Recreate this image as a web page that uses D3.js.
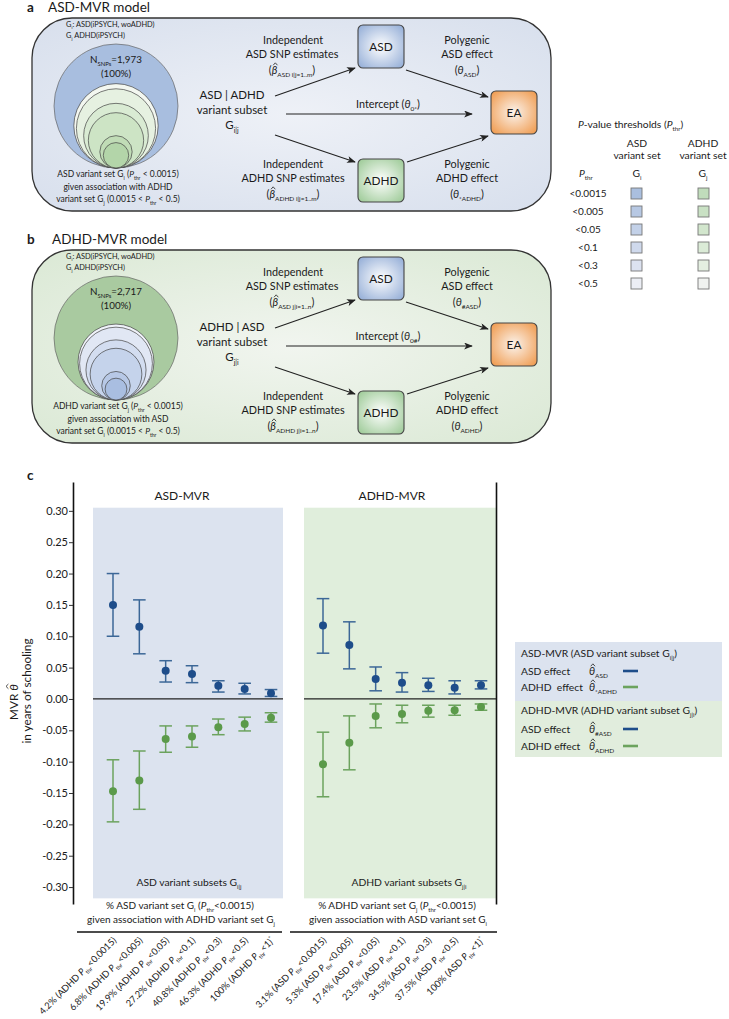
<!DOCTYPE html>
<html><head><meta charset="utf-8">
<script src="https://cdn.jsdelivr.net/npm/d3@7"></script>
<style>
body{margin:0;background:#fff}
svg{display:block}
text{font-family:Lato,"Open Sans",sans-serif;fill:#1a1a1a;white-space:pre}
</style>
</head><body><svg id="c" width="729" height="1019"></svg>
<script>
// ---------------- DATA ----------------
const thresholds = ["<0.0015","<0.005","<0.05","<0.1","<0.3","<0.5"];
const catThresholds = ["<0.0015","<0.005","<0.05","<0.1","<0.3","<0.5","<1"];
const asdSubsetPct = [4.2, 6.8, 19.9, 27.2, 40.8, 46.3, 100];
const adhdSubsetPct = [3.1, 5.3, 17.4, 23.5, 34.5, 37.5, 100];
const nSnpsASD = "1,973";
const nSnpsADHD = "2,717";

const yTicks = [-0.30,-0.25,-0.20,-0.15,-0.10,-0.05,0.00,0.05,0.10,0.15,0.20,0.25,0.30];
const yTickLabels = ["-0.30","-0.25","-0.20","-0.15","-0.10","-0.05","0.00","0.05","0.10","0.15","0.20","0.25","0.30"];

// ASD-MVR model (ASD variant subsets)
const asdMvrAsdEst  = [0.150, 0.115, 0.045, 0.040, 0.021, 0.016, 0.009];
const asdMvrAsdLo   = [0.100, 0.072, 0.027, 0.026, 0.011, 0.008, 0.004];
const asdMvrAsdHi   = [0.200, 0.158, 0.061, 0.053, 0.029, 0.025, 0.015];
const asdMvrAdhdEst = [-0.147, -0.130, -0.064, -0.060, -0.045, -0.040, -0.030];
const asdMvrAdhdLo  = [-0.196, -0.176, -0.085, -0.077, -0.057, -0.051, -0.037];
const asdMvrAdhdHi  = [-0.097, -0.083, -0.043, -0.043, -0.032, -0.029, -0.022];
// ADHD-MVR model (ADHD variant subsets)
const adhdMvrAsdEst  = [0.117, 0.086, 0.032, 0.026, 0.022, 0.018, 0.022];
const adhdMvrAsdLo   = [0.073, 0.048, 0.013, 0.011, 0.012, 0.008, 0.016];
const adhdMvrAsdHi   = [0.160, 0.123, 0.051, 0.042, 0.033, 0.029, 0.029];
const adhdMvrAdhdEst = [-0.104, -0.070, -0.027, -0.024, -0.019, -0.018, -0.013];
const adhdMvrAdhdLo  = [-0.156, -0.113, -0.046, -0.038, -0.029, -0.026, -0.018];
const adhdMvrAdhdHi  = [-0.053, -0.027, -0.008, -0.010, -0.010, -0.010, -0.008];

// ---------------- STYLE ----------------
const C = {
  blueDot:"#1e4d8a", blueBar:"#3c6797", greenDot:"#5b9a4a", greenBar:"#6ca35e",
  panelBlue:"#dce3ef", panelGreen:"#e0eedc",
  bigBlue:"#a8bedf", bigGreen:"#a9caa0",
  innerGreen:["#b3d5a9","#c0dcb6","#cde4c5","#d9ebd3","#e6f1e1","#f3f7f0"],
  innerBlue:["#a9bee1","#b7c8e6","#c5d3eb","#d3ddf0","#e1e7f4","#eff2f9"],
  sqBlue:["#aabfdf","#b7c8e3","#c3d1e8","#cfd9ec","#dce2f0","#eceef5"],
  sqGreen:["#c0dcbb","#c9e1c4","#d2e6cd","#dbebd7","#e4efe1","#f0f2f0"]
};

const svg = d3.select("#c");
const defs = svg.append("defs");
function radial(id, inner, outer, r){
  const g = defs.append("radialGradient").attr("id", id).attr("r", r || "60%");
  g.append("stop").attr("offset","0%").attr("stop-color",inner);
  g.append("stop").attr("offset","100%").attr("stop-color",outer);
}
radial("gASD","#ffffff","#8faad5","70%");
radial("gADHD","#ffffff","#99c893","70%");
radial("gEA","#fbf3ec","#ef9646","70%");
radial("bgA","#eef1f7","#d6deec","75%");
radial("bgB","#f1f5ef","#d9e8d3","75%");
defs.append("marker").attr("id","arr").attr("viewBox","0 0 10 8").attr("refX",9).attr("refY",4)
  .attr("markerWidth",9).attr("markerHeight",7).attr("markerUnits","userSpaceOnUse").attr("orient","auto")
  .append("path").attr("d","M0,0L10,4L0,8L2.5,4Z").attr("fill","#222");

// ---------------- rich text helper ----------------
function parseRich(s){
  const segs=[]; let it=false, i=0, buf="";
  const push=(t,extra)=>{ if(t) segs.push(Object.assign({t, it}, extra||{})); };
  while(i<s.length){
    const c=s[i];
    if(c==='*'){ push(buf); buf=""; it=!it; i++; }
    else if((c==='_'||c==='^') && s[i+1]==='{'){ push(buf); buf=""; const j=s.indexOf('}',i); push(s.slice(i+2,j),{sub:c==='_',sup:c==='^',it:false}); i=j+1; }
    else if(c==='@'){ push(buf); buf=""; push(s[i+1],{hat:true}); i+=2; }
    else { buf+=c; i++; }
  }
  push(buf); return segs;
}
function rich(parent, x, y, s, size, opts){
  opts = opts || {};
  const t = parent.append("text").attr("x",x).attr("y",y).attr("font-size",size)
    .attr("text-anchor",opts.anchor||"start");
  if(opts.weight) t.attr("font-weight",opts.weight);
  let shift=0, idx=0; const hats=[];
  parseRich(s).forEach(seg=>{
    const ts = t.append("tspan").text(seg.t);
    const target = seg.sub ? size*0.32 : seg.sup ? -size*0.38 : 0;
    if(target!==shift){ ts.attr("dy", target-shift); shift=target; }
    if(seg.sub||seg.sup) ts.attr("font-size", size*0.6);
    if(seg.it) ts.attr("font-style","italic");
    if(seg.hat) hats.push(idx);
    idx += seg.t.length;
  });
  hats.forEach(ci=>{
    const e = t.node().getExtentOfChar(ci);
    const cx = e.x + e.width/2 + size*0.08, top = e.y + e.height*0.08;
    const w = size*0.2;
    parent.append("path").attr("d",`M${cx-w},${top+1.2}L${cx},${top-1.2}L${cx+w},${top+1.2}`)
      .attr("fill","none").attr("stroke","#222").attr("stroke-width",0.8);
  });
  return t;
}

// ---------------- PANELS a / b ----------------
function drawModel(dy, cfg){
  const g = svg.append("g").attr("transform",`translate(0,${dy})`);
  rich(g, 27, 11.5, cfg.letter, 13.5, {weight:"bold"});
  rich(g, cfg.titleX, 11.5, cfg.title, 13.5);
  g.append("rect").attr("x",32).attr("y",18).attr("width",519).attr("height",193).attr("rx",40)
    .attr("fill",cfg.bg).attr("stroke","#333").attr("stroke-width",1.3);
  rich(g, 66, 27, "G_{i}: ASD(iPSYCH, woADHD)", 7.4);
  rich(g, 66, 38, "G_{j} ADHD(iPSYCH)", 7.4);
  // nested circles, area ~ share of variant set
  const R = 62, cx = 116, bottom = 168;
  const r = d3.scaleSqrt().domain([0,100]).range([0,R]);
  const circ = [{p:100, fill:cfg.big}].concat(cfg.pct.slice(0,6).map((p,i)=>({p, fill:cfg.inner[i]})).reverse());
  g.selectAll("circle.n").data(circ).join("circle").attr("class","n")
    .attr("cx",cx).attr("cy",d=>bottom-r(d.p)).attr("r",d=>r(d.p))
    .attr("fill",d=>d.fill).attr("stroke",(d,i)=>i===0?"#666":"#444").attr("stroke-width",0.7);
  rich(g, 116, 63, "N_{SNPs}="+cfg.n, 9.8, {anchor:"middle"});
  rich(g, 116, 77, "(100%)", 9.8, {anchor:"middle"});
  cfg.bottomLines.forEach((l,i)=>rich(g, 118, 177+i*12.5, l, 8.5, {anchor:"middle"}));
  cfg.centerLines.forEach((l,i)=>rich(g, 232, 99+i*15, l, 11.5, {anchor:"middle"}));
  // independent estimates
  rich(g, 293, 44, "Independent", 10.8, {anchor:"middle"});
  rich(g, 292, 58, "ASD SNP estimates", 10.8, {anchor:"middle"});
  rich(g, 292, 74, cfg.betaASD, 10.8, {anchor:"middle"});
  rich(g, 293, 168, "Independent", 10.8, {anchor:"middle"});
  rich(g, 293, 182, "ADHD SNP estimates", 10.8, {anchor:"middle"});
  rich(g, 293, 198, cfg.betaADHD, 10.8, {anchor:"middle"});
  rich(g, 388, 108, cfg.intercept, 10.8, {anchor:"middle"});
  rich(g, 467, 44, "Polygenic", 10.8, {anchor:"middle"});
  rich(g, 467, 58, "ASD effect", 10.8, {anchor:"middle"});
  rich(g, 467, 74, cfg.thASD, 10.8, {anchor:"middle"});
  rich(g, 467, 168, "Polygenic", 10.8, {anchor:"middle"});
  rich(g, 467, 182, "ADHD effect", 10.8, {anchor:"middle"});
  rich(g, 467, 198, cfg.thADHD, 10.8, {anchor:"middle"});
  // arrows
  const arrows = [[275,96,355,68],[286,114,472,114],[275,135,355,162],[406,70,488,97],[407,162,488,136]];
  g.selectAll("line.ar").data(arrows).join("line").attr("class","ar")
    .attr("x1",d=>d[0]).attr("y1",d=>d[1]).attr("x2",d=>d[2]).attr("y2",d=>d[3])
    .attr("stroke","#222").attr("stroke-width",1.1).attr("marker-end","url(#arr)");
  // boxes
  const boxes = [{x:358,y:25,t:"ASD",f:"url(#gASD)"},{x:358,y:159,t:"ADHD",f:"url(#gADHD)"},{x:491,y:91,t:"EA",f:"url(#gEA)"}];
  boxes.forEach(b=>{
    g.append("rect").attr("x",b.x).attr("y",b.y).attr("width",46).attr("height",43).attr("rx",5)
      .attr("fill",b.f).attr("stroke","#444").attr("stroke-width",1.1);
    rich(g, b.x+23, b.y+25.5, b.t, 11.8, {anchor:"middle"});
  });
}
drawModel(0, {
  letter:"a", title:"ASD-MVR model", titleX:48, bg:"url(#bgA)", big:C.bigBlue, inner:C.innerGreen,
  pct:asdSubsetPct, n:nSnpsASD,
  bottomLines:["ASD variant set G_{i} (*P*_{thr} < 0.0015)","given association with ADHD","variant set G_{j} (0.0015 < *P*_{thr} < 0.5)"],
  centerLines:["ASD | ADHD","variant subset","G_{i|j}"],
  betaASD:"(*@β*_{ASD i|j=1..m})", betaADHD:"(*@β*_{ADHD i|j=1..m})",
  intercept:"Intercept (*θ*_{0*})", thASD:"(*θ*_{ASD})", thADHD:"(*θ*_{*ADHD})"
});
drawModel(232, {
  letter:"b", title:"ADHD-MVR model", titleX:52, bg:"url(#bgB)", big:C.bigGreen, inner:C.innerBlue,
  pct:adhdSubsetPct, n:nSnpsADHD,
  bottomLines:["ADHD variant set G_{j} (*P*_{thr} < 0.0015)","given association with ASD","variant set G_{i} (0.0015 < *P*_{thr} < 0.5)"],
  centerLines:["ADHD | ASD","variant subset","G_{j|i}"],
  betaASD:"(*@β*_{ASD j|i=1..n})", betaADHD:"(*@β*_{ADHD j|i=1..n})",
  intercept:"Intercept (*θ*_{0#})", thASD:"(*θ*_{#ASD})", thADHD:"(*θ*_{ADHD})"
});

// threshold legend
const lg = svg.append("g");
rich(lg, 578, 128, "*P*-value thresholds (*P*_{thr})", 10.3);
rich(lg, 637, 147, "ASD", 10.3, {anchor:"middle"});
rich(lg, 637, 159, "variant set", 10.3, {anchor:"middle"});
rich(lg, 703, 147, "ADHD", 10.3, {anchor:"middle"});
rich(lg, 703, 159, "variant set", 10.3, {anchor:"middle"});
rich(lg, 579, 177, "*P*_{thr}", 10.3);
rich(lg, 637, 177, "G_{i}", 10.3, {anchor:"middle"});
rich(lg, 703, 177, "G_{j}", 10.3, {anchor:"middle"});
thresholds.forEach((t,i)=>{
  rich(lg, 588, 197+18*i, t, 10, {anchor:"middle"});
  lg.append("rect").attr("x",631).attr("y",188+18*i).attr("width",11).attr("height",11)
    .attr("fill",C.sqBlue[i]).attr("stroke","#777").attr("stroke-width",0.9);
  lg.append("rect").attr("x",698).attr("y",188+18*i).attr("width",11).attr("height",11)
    .attr("fill",C.sqGreen[i]).attr("stroke","#777").attr("stroke-width",0.9);
});

// ---------------- PANEL c ----------------
rich(svg, 27, 480, "c", 13.5, {weight:"bold"});
const y = d3.scaleLinear().domain([-0.327,0.346]).range([904,482]);
const idx = d3.range(7);
const xA = d3.scalePoint().domain(idx).range([113,271]);
const xB = d3.scalePoint().domain(idx).range([323,481]);

svg.append("rect").attr("x",93).attr("y",y(0.305)).attr("width",190).attr("height",y(-0.318)-y(0.305)).attr("fill",C.panelBlue);
svg.append("rect").attr("x",304).attr("y",y(0.305)).attr("width",192).attr("height",y(-0.318)-y(0.305)).attr("fill",C.panelGreen);

const ax = svg.append("g").attr("transform","translate(73,0)")
  .call(d3.axisLeft(y).tickValues(yTicks).tickFormat((d,i)=>yTickLabels[i]).tickSize(4).tickSizeOuter(0));
ax.attr("font-family",null).attr("font-size",null);
ax.select(".domain").attr("stroke","#111").attr("stroke-width",1.6);
ax.selectAll(".tick line").attr("stroke","#333");
ax.selectAll(".tick text").attr("font-size",11).attr("fill","#1a1a1a").attr("x",-5);
const axR = svg.append("g").attr("transform","translate(496,0)").call(d3.axisRight(y).tickValues([]).tickSizeOuter(0));
axR.select(".domain").attr("stroke","#111").attr("stroke-width",1.6);

svg.append("line").attr("x1",93).attr("x2",283).attr("y1",y(0)).attr("y2",y(0)).attr("stroke","#222").attr("stroke-width",1.3);
svg.append("line").attr("x1",304).attr("x2",496).attr("y1",y(0)).attr("y2",y(0)).attr("stroke","#222").attr("stroke-width",1.3);

function series(x, est, lo, hi, dot, bar){
  const g = svg.append("g");
  const d = idx.map(i=>({i, e:est[i], l:lo[i], h:hi[i]}));
  g.selectAll("line.v").data(d).join("line").attr("x1",p=>x(p.i)).attr("x2",p=>x(p.i))
    .attr("y1",p=>y(p.l)).attr("y2",p=>y(p.h)).attr("stroke",bar).attr("stroke-width",1.5);
  ["l","h"].forEach(k=>{
    g.selectAll("line.c"+k).data(d).join("line").attr("x1",p=>x(p.i)-6.3).attr("x2",p=>x(p.i)+6.3)
      .attr("y1",p=>y(p[k])).attr("y2",p=>y(p[k])).attr("stroke",bar).attr("stroke-width",1.5);
  });
  g.selectAll("circle").data(d).join("circle").attr("cx",p=>x(p.i)).attr("cy",p=>y(p.e)).attr("r",4).attr("fill",dot);
}
series(xA, asdMvrAsdEst, asdMvrAsdLo, asdMvrAsdHi, C.blueDot, C.blueBar);
series(xA, asdMvrAdhdEst, asdMvrAdhdLo, asdMvrAdhdHi, C.greenDot, C.greenBar);
series(xB, adhdMvrAsdEst, adhdMvrAsdLo, adhdMvrAsdHi, C.blueDot, C.blueBar);
series(xB, adhdMvrAdhdEst, adhdMvrAdhdLo, adhdMvrAdhdHi, C.greenDot, C.greenBar);

rich(svg, 182, 500, "ASD-MVR", 12, {anchor:"middle"});
rich(svg, 392, 500, "ADHD-MVR", 12, {anchor:"middle"});
rich(svg, 189, 886, "ASD variant subsets G_{i|j}", 10.3, {anchor:"middle"});
rich(svg, 409, 886, "ADHD variant subsets G_{j|i}", 10.3, {anchor:"middle"});

// y title
const yt = svg.append("g").attr("transform","translate(18,702) rotate(-90)");
rich(yt, 0, 0, "MVR *@θ*", 11.8, {anchor:"middle"});
const yt2 = svg.append("g").attr("transform","translate(31,691) rotate(-90)");
rich(yt2, 0, 0, "in years of schooling", 11.8, {anchor:"middle"});

// x group captions
rich(svg, 180, 909, "% ASD variant set G_{i} (*P*_{thr}<0.0015)", 10, {anchor:"middle"});
rich(svg, 181, 923, "given association with ADHD variant set G_{j}", 10, {anchor:"middle"});
rich(svg, 397, 909, "% ADHD variant set G_{j} (*P*_{thr}<0.0015)", 10, {anchor:"middle"});
rich(svg, 398, 923, "given association with ASD variant set G_{i}", 10, {anchor:"middle"});
svg.append("line").attr("x1",77).attr("x2",282).attr("y1",932).attr("y2",932).attr("stroke","#111").attr("stroke-width",1.5);
svg.append("line").attr("x1",290).attr("x2",497).attr("y1",932).attr("y2",932).attr("stroke","#111").attr("stroke-width",1.5);

// rotated category labels
const labA = idx.map(i=>`${asdSubsetPct[i]}% (ADHD *P*_{thr}${catThresholds[i]})` + (i===6?"^{*}":""));
const labB = idx.map(i=>`${adhdSubsetPct[i]}% (ASD *P*_{thr}${catThresholds[i]})` + (i===6?"^{*}":""));
[[labA,xA],[labB,xB]].forEach(([labs,x])=>{
  svg.append("g").selectAll("g").data(labs).join("g")
    .attr("transform",(d,i)=>`translate(${x(i)+4},941) rotate(-45)`)
    .each(function(d){ rich(d3.select(this), 0, 0, d, 9.3, {anchor:"end"}); });
});

// effect legend
svg.append("rect").attr("x",515).attr("y",642).attr("width",207).attr("height",59).attr("fill",C.panelBlue);
svg.append("rect").attr("x",515).attr("y",701).attr("width",207).attr("height",56).attr("fill","#e1eddd");
const legRows = [
  {y:657, t:"ASD-MVR (ASD variant subset G_{i|j})"},
  {y:675, t:"ASD effect", th:"*@θ*_{ASD}", col:C.blueDot},
  {y:691, t:"ADHD  effect", th:"*@θ*_{*ADHD}", col:C.greenBar},
  {y:714, t:"ADHD-MVR (ADHD variant subset G_{j|i})"},
  {y:733, t:"ASD effect", th:"*@θ*_{#ASD}", col:C.blueDot},
  {y:750, t:"ADHD effect", th:"*@θ*_{ADHD}", col:C.greenBar}
];
legRows.forEach(r=>{
  rich(svg, 521, r.y, r.t, 10.3);
  if(r.th){
    rich(svg, 589, r.y, r.th, 10.8);
    svg.append("line").attr("x1",623).attr("x2",638).attr("y1",r.y-4).attr("y2",r.y-4).attr("stroke",r.col).attr("stroke-width",2.6);
  }
});
</script>
</body></html>
